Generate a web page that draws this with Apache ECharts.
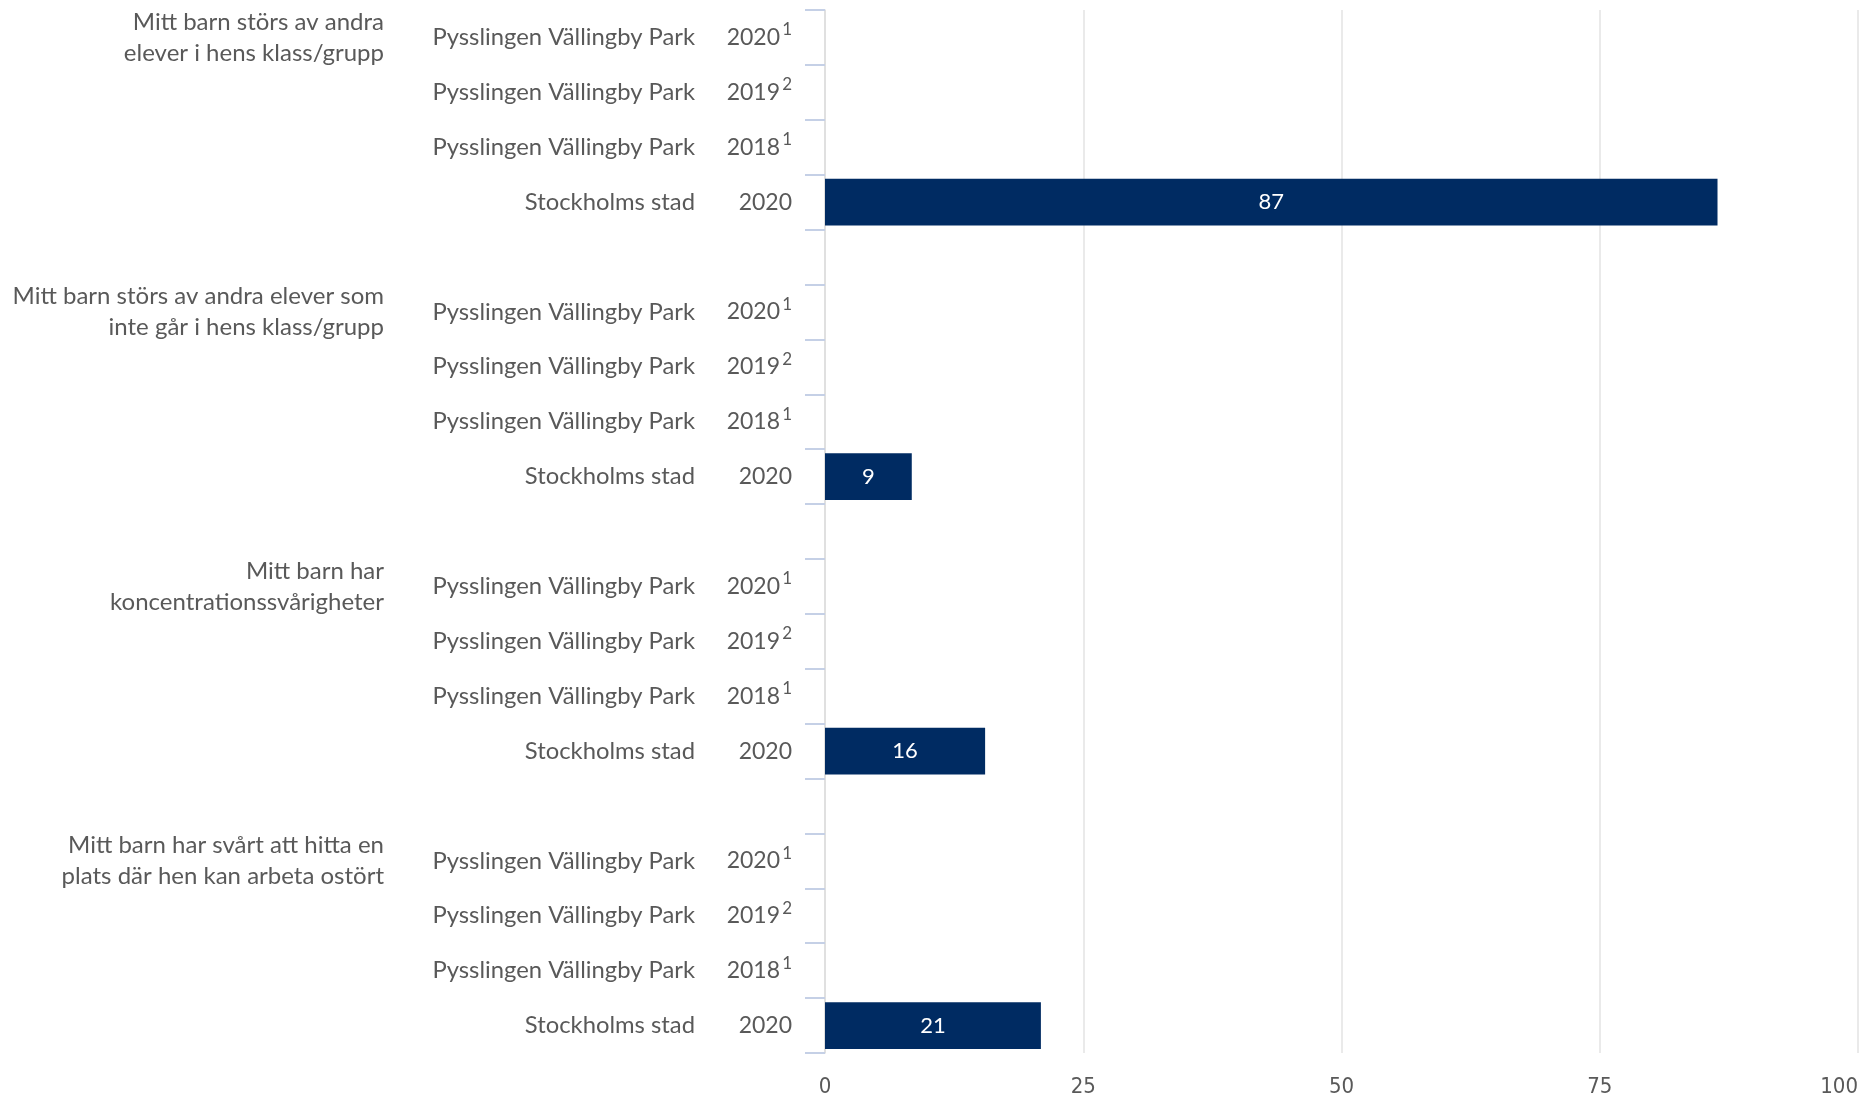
<!DOCTYPE html>
<html>
<head>
	<meta charset="utf-8" />
	<title>Störningar i klassrummet</title>
	<style type="text/css">
		html, body {
			margin: 0;
			padding: 0;
			background: #fff;
		}

		#main {
			width: 1875px;
			height: 1096px;
		}
	</style>
	<script src="https://cdn.jsdelivr.net/npm/echarts@6.0.0/dist/echarts.min.js"></script>
</head>
<body>
	<div id="main"></div>
	<script type="text/javascript">

		// frågor (en grupp per fråga)
		const questions = [
			'Mitt barn störs av andra\nelever i hens klass/grupp',
			'Mitt barn störs av andra elever som\ninte går i hens klass/grupp',
			'Mitt barn har\nkoncentrationssvårigheter',
			'Mitt barn har svårt att hitta en\nplats där hen kan arbeta ostört'
		];
		// rader inom varje grupp
		const units = ['Pysslingen Vällingby Park', 'Pysslingen Vällingby Park', 'Pysslingen Vällingby Park', 'Stockholms stad'];
		const years = ['2020', '2019', '2018', '2020'];
		const notes = ['1', '2', '1', ''];
		// andel (%) per fråga, bara Stockholms stad har värden
		const values = [
			[null, null, null, 86.4],
			[null, null, null, 8.4],
			[null, null, null, 15.5],
			[null, null, null, 20.9]
		];
		const valueLabels = [
			[null, null, null, '87'],
			[null, null, null, '9'],
			[null, null, null, '16'],
			[null, null, null, '21']
		];
		const xTicks = [0, 25, 50, 75, 100];

		const font = 'Lato, "Noto Sans", sans-serif';
		const textColor = '#595959';

		// bygg kategorier: 4 rader per grupp + en tom rad mellan grupperna
		const cats = [], rowLabel = [], groupLabel = [], data = [];
		questions.forEach((q, gi) => {
			if (gi > 0) {
				cats.push('gap' + gi);
				rowLabel.push('');
				groupLabel.push('');
				data.push(null);
			}
			units.forEach((u, ri) => {
				cats.push('g' + gi + 'r' + ri);
				if (notes[ri]) {
					rowLabel.push('{n|' + u + '}{y|' + years[ri] + '}{s|' + notes[ri] + '}');
				} else {
					rowLabel.push('{n|' + u + '}{y2|' + years[ri] + '}');
				}
				groupLabel.push(ri === 0 ? q : '');
				data.push(values[gi][ri] == null ? null : {
					value: values[gi][ri],
					label: { formatter: valueLabels[gi][ri] }
				});
			});
		});

		const options = {
			animation: false,
			textStyle: { fontFamily: font },
			grid: {
				left: 825,
				right: 17,
				top: 10,
				bottom: 43,
				containLabel: false,
				outerBoundsMode: 'none'
			},
			xAxis: {
				type: 'value',
				min: xTicks[0],
				max: xTicks[xTicks.length - 1],
				interval: 25,
				axisLine: { show: false },
				axisTick: { show: false },
				splitLine: {
					show: true,
					lineStyle: { color: '#e3e3e3', width: 1.5 }
				},
				axisLabel: {
					margin: 23,
					fontSize: 22,
					color: textColor,
					fontFamily: '"Liberation Sans Narrow", "DejaVu Sans Condensed", sans-serif',
					alignMaxLabel: 'right'
				}
			},
			yAxis: [
				{
					type: 'category',
					data: cats,
					inverse: true,
					position: 'left',
					axisLine: {
						show: true,
						lineStyle: { color: '#dcdcdc', width: 1.5 }
					},
					axisTick: {
						show: true,
						interval: 0,
						length: 20,
						lineStyle: { color: '#c5d0e6', width: 2 }
					},
					axisLabel: {
						interval: 0,
						margin: 33,
						formatter: (v, i) => rowLabel[i],
						rich: {
							n: { width: 300, align: 'right', fontSize: 23.8, color: textColor, fontFamily: font },
							y: { width: 85, align: 'right', fontSize: 23, color: textColor, fontFamily: font },
							y2: { width: 97, align: 'right', fontSize: 23, color: textColor, fontFamily: font },
							s: { width: 12, align: 'right', fontSize: 17, color: textColor, fontFamily: font, padding: [0, 0, 15, 0] }
						}
					}
				},
				{
					type: 'category',
					data: cats,
					inverse: true,
					position: 'left',
					offset: 441,
					axisLine: { show: false },
					axisTick: { show: false },
					axisLabel: {
						interval: 0,
						margin: 0,
						fontSize: 24,
						lineHeight: 31,
						color: textColor,
						fontFamily: font,
						formatter: (v, i) => groupLabel[i]
					}
				}
			],
			series: [
				{
					type: 'bar',
					yAxisIndex: 0,
					data: data,
					barCategoryGap: '15%',
					itemStyle: { color: '#002b62' },
					label: {
						show: true,
						position: 'inside',
						color: '#ffffff',
						fontSize: 22,
						fontFamily: font
					}
				}
			]
		};

		const myChart = echarts.init(document.getElementById('main'));
		myChart.setOption(options);

	</script>
</body>
</html>
